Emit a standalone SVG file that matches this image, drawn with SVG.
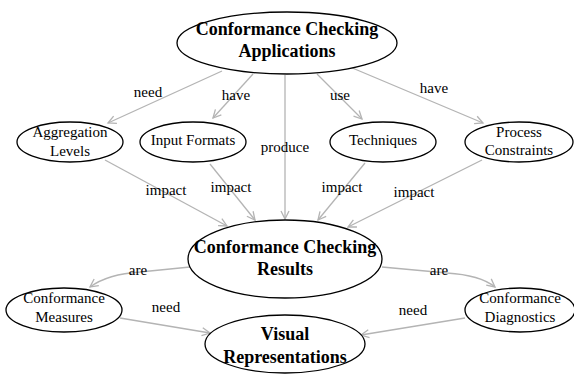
<svg xmlns="http://www.w3.org/2000/svg" width="574" height="374" viewBox="0 0 574 374">
<style>
.n{fill:#fff;stroke:#000;stroke-width:1.3}
.t{font-family:"Liberation Serif","Times New Roman",serif;font-size:15px;fill:#000;text-anchor:middle}
.b{font-family:"Liberation Serif","Times New Roman",serif;font-size:18px;font-weight:bold;fill:#000;text-anchor:middle}
.e{fill:none;stroke:#b4b4b4;stroke-width:1.3;marker-end:url(#a)}
.l{font-family:"Liberation Serif","Times New Roman",serif;font-size:15px;fill:#000;text-anchor:middle}
</style>
<defs>
<marker id="a" markerUnits="userSpaceOnUse" markerWidth="12" markerHeight="12" refX="9" refY="5" orient="auto">
<path d="M1,1 L9,5 L1,9" fill="none" stroke="#b4b4b4" stroke-width="1.3"/>
</marker>
</defs>
<rect width="574" height="374" fill="#fff"/>
<g id="edges">
<path class="e" d="M222,71 L108,123"/>
<path class="e" d="M253,74 L213,118"/>
<path class="e" d="M285,75 L285,219"/>
<path class="e" d="M317,74 L362,119"/>
<path class="e" d="M350,67 L483,123"/>
<path class="e" d="M105,160 L227,226"/>
<path class="e" d="M210,164 L255,220"/>
<path class="e" d="M365,163 L318,220"/>
<path class="e" d="M482,160 L348,227"/>
<path class="e" d="M190,267 L140,272 Q108,274 90,287"/>
<path class="e" d="M382,267 L447,273 Q480,275 495,287"/>
<path class="e" d="M120,318 L210,333"/>
<path class="e" d="M465,318 L361,335"/>
<text class="l" x="148" y="97">need</text>
<text class="l" x="236" y="100">have</text>
<text class="l" x="285" y="152">produce</text>
<text class="l" x="340" y="100">use</text>
<text class="l" x="434" y="93">have</text>
<text class="l" x="166" y="195">impact</text>
<text class="l" x="231" y="192">impact</text>
<text class="l" x="342" y="192">impact</text>
<text class="l" x="414" y="197">impact</text>
<text class="l" x="138" y="275">are</text>
<text class="l" x="439" y="275">are</text>
<text class="l" x="166" y="312">need</text>
<text class="l" x="413" y="315">need</text>
</g>
<g id="apps">
<ellipse class="n" cx="287" cy="43" rx="110" ry="31"/>
<text class="b" x="287" y="35">Conformance Checking</text>
<text class="b" x="287" y="57">Applications</text>
</g>
<g id="aggregation">
<ellipse class="n" cx="70" cy="142" rx="53" ry="20"/>
<text class="t" x="70" y="137">Aggregation</text>
<text class="t" x="70" y="156">Levels</text>
</g>
<g id="input">
<ellipse class="n" cx="193" cy="142" rx="53" ry="20"/>
<text class="t" x="193" y="145">Input Formats</text>
</g>
<g id="techniques">
<ellipse class="n" cx="383" cy="142" rx="53" ry="20"/>
<text class="t" x="383" y="145">Techniques</text>
</g>
<g id="constraints">
<ellipse class="n" cx="519" cy="142" rx="54" ry="20"/>
<text class="t" x="519" y="137">Process</text>
<text class="t" x="519" y="155">Constraints</text>
</g>
<g id="results">
<ellipse class="n" cx="285" cy="259" rx="97" ry="39"/>
<text class="b" x="285" y="253">Conformance Checking</text>
<text class="b" x="285" y="275">Results</text>
</g>
<g id="measures">
<ellipse class="n" cx="64" cy="310" rx="58" ry="22"/>
<text class="t" x="64" y="303">Conformance</text>
<text class="t" x="64" y="322">Measures</text>
</g>
<g id="diagnostics">
<ellipse class="n" cx="520" cy="310" rx="55" ry="22"/>
<text class="t" x="520" y="303">Conformance</text>
<text class="t" x="520" y="322">Diagnostics</text>
</g>
<g id="visual">
<ellipse class="n" cx="285" cy="344" rx="80" ry="29"/>
<text class="b" x="285" y="340">Visual</text>
<text class="b" x="285" y="363">Representations</text>
</g>
</svg>
